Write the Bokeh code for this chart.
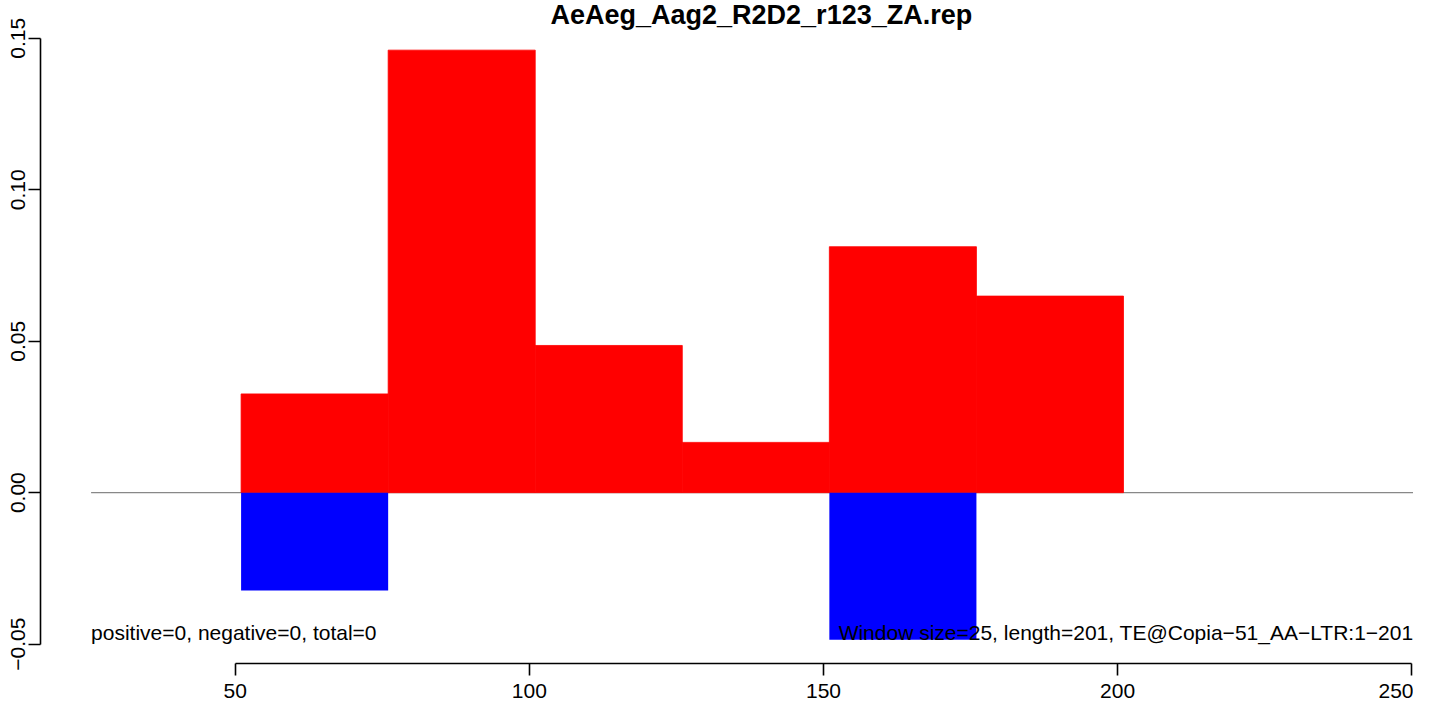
from bokeh.plotting import figure
from bokeh.models import FixedTicker, Range1d, Label, ColumnDataSource
from bokeh.embed import file_html
from bokeh.resources import INLINE

# ---- data ----
win_start = [51, 76, 101, 126, 151, 176]
win_end = [76, 101, 126, 151, 176, 201]
pos_vals = [0.0326, 0.1461, 0.0486, 0.0166, 0.0812, 0.0649]
neg_vals = [-0.0323, 0.0, 0.0, 0.0, -0.0486, 0.0]
x_ticks = [50, 100, 150, 200, 250]
y_ticks = [-0.05, 0.0, 0.05, 0.10, 0.15]
y_tick_labels = ["\u22120.05", "0.00", "0.05", "0.10", "0.15"]
title_text = "AeAeg_Aag2_R2D2_r123_ZA.rep"
left_note = "positive=0, negative=0, total=0"
right_note = "Window size=25, length=201, TE@Copia\u221251_AA\u2212LTR:1\u2212201"
xlim = [25.5, 251.0]
ylim = [-0.0564, 0.1539]

FONT = "Liberation Sans"

p = figure(width=1413, height=700, output_backend="svg", toolbar_location=None,
           x_range=Range1d(16.9, 250.3), y_range=Range1d(ylim[0], ylim[1]),
           min_border_left=40, min_border_right=0, min_border_top=0, min_border_bottom=0)

p.title.text = title_text
p.title.text_font = FONT
p.title.text_font_size = "27px"
p.title.text_font_style = "bold"
p.title.text_color = "black"
p.title.align = "left"
p.title.standoff = -6
p.title.offset = 510

p.grid.visible = False
p.outline_line_color = None
p.background_fill_color = "white"
p.border_fill_color = "white"

# zero line
seg_src = ColumnDataSource(dict(x0=[xlim[0]], x1=[xlim[1]], y0=[0.0], y1=[0.0]))
p.segment(x0="x0", y0="y0", x1="x1", y1="y1", source=seg_src, line_color="#888888", line_width=1.3)

# bars
p.quad(left=win_start, right=win_end, bottom=[0] * len(pos_vals), top=pos_vals,
       fill_color="#FF0000", line_color="#FF0000", line_width=0.8)
p.quad(left=win_start, right=win_end, bottom=neg_vals, top=[0] * len(neg_vals),
       fill_color="#0000FF", line_color=None)

# notes
p.add_layout(Label(x=xlim[0], y=-0.0463, text=left_note, text_align="left",
                   text_baseline="middle", text_font=FONT, text_font_size="21px",
                   text_color="black"))
p.add_layout(Label(x=250.3, y=-0.0463, text=right_note, text_align="right",
                   text_baseline="middle", text_font=FONT, text_font_size="21px",
                   text_color="black"))

# axes
for ax in (p.xaxis[0], p.yaxis[0]):
    ax.axis_line_width = 1.6
    ax.major_tick_line_width = 1.6
    ax.major_tick_out = 12
    ax.major_tick_in = 0
    ax.minor_tick_out = 0
    ax.minor_tick_in = 0
    ax.major_label_text_font = FONT
    ax.major_label_text_font_size = "21px"
    ax.major_label_text_color = "black"
    ax.axis_line_color = "black"
    ax.major_tick_line_color = "black"

p.xaxis[0].ticker = FixedTicker(ticks=x_ticks)
p.xaxis[0].bounds = (x_ticks[0], x_ticks[-1])
p.xaxis[0].major_label_standoff = 8

p.yaxis[0].ticker = FixedTicker(ticks=y_ticks)
p.yaxis[0].bounds = (y_ticks[0], y_ticks[-1])
p.yaxis[0].major_label_overrides = {t: l for t, l in zip(y_ticks, y_tick_labels)}
p.yaxis[0].major_label_orientation = "vertical"
p.yaxis[0].major_label_standoff = 3

open("out.html", "w").write(file_html(p, INLINE))
